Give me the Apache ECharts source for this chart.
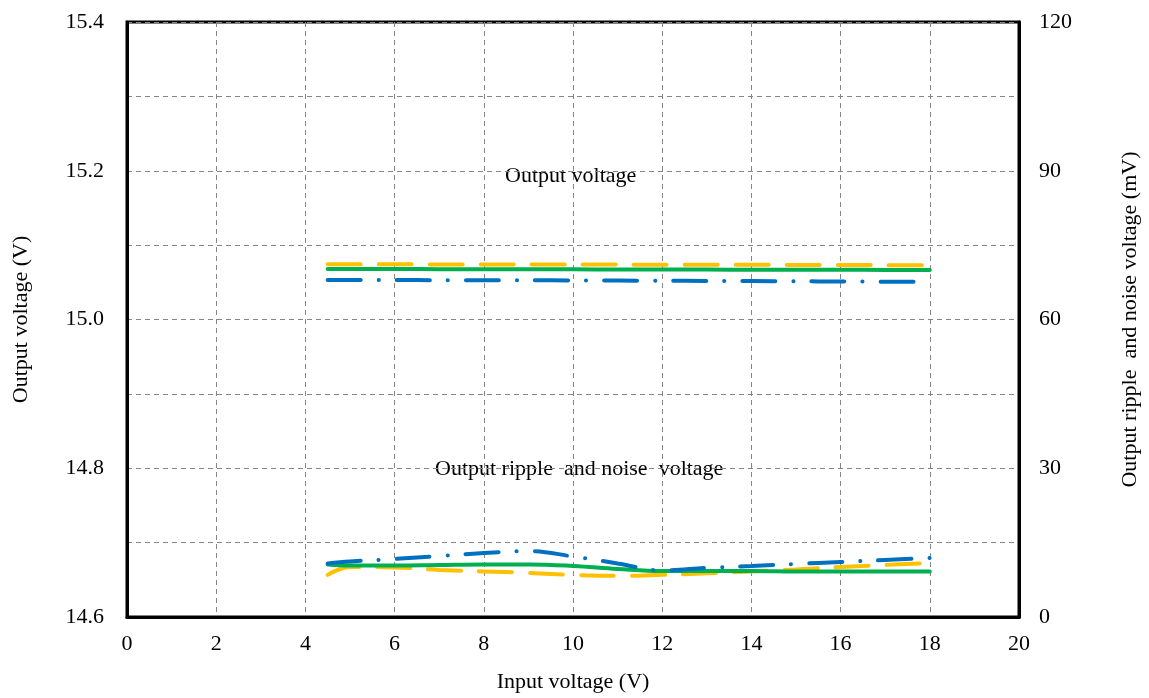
<!DOCTYPE html>
<html>
<head>
<meta charset="utf-8">
<script src="https://cdn.jsdelivr.net/npm/echarts@6/dist/echarts.min.js"></script>
<style>
html,body{margin:0;padding:0;background:#fff;}
#chart{width:1149px;height:698px;}
</style>
</head>
<body>
<div id="chart"></div>
<script>
// Input voltage (V)
const inputV = [4.5, 5, 6, 7, 8, 9, 10, 11, 12, 13, 14, 15, 16, 17, 18];
// Output voltage (V), left axis
const outVYellow = [15.0743, 15.0743, 15.0742, 15.0741, 15.0741, 15.0740, 15.0739, 15.0738, 15.0737, 15.0736, 15.0735, 15.0734, 15.0733, 15.0731, 15.0730];
const outVGreen  = [15.0679, 15.0679, 15.0678, 15.0677, 15.0676, 15.0675, 15.0674, 15.0673, 15.0672, 15.0671, 15.0670, 15.0669, 15.0668, 15.0667, 15.0666];
const outVBlue   = [15.0531, 15.0531, 15.0530, 15.0529, 15.0528, 15.0527, 15.0525, 15.0523, 15.0521, 15.0519, 15.0517, 15.0514, 15.0511, 15.0508, 15.0505];
// Output ripple and noise voltage (mV), right axis
const rippleYellow = [8.5, 10.1, 10.0, 9.5, 9.2, 8.9, 8.5, 8.3, 8.5, 8.8, 9.2, 9.6, 10.1, 10.5, 10.9];
const rippleGreen  = [10.6, 10.4, 10.4, 10.5, 10.6, 10.6, 10.3, 9.7, 9.3, 9.3, 9.3, 9.2, 9.2, 9.2, 9.2];
const rippleBlue   = [10.8, 11.2, 11.7, 12.3, 12.9, 13.3, 12.2, 10.8, 9.4, 9.9, 10.3, 10.7, 11.1, 11.5, 11.9];
// Axis ticks
const xTicks = {min: 0, max: 20, interval: 2};
const leftTicks = {min: 14.6, max: 15.4, interval: 0.1};
const rightTicks = {min: 0, max: 120, interval: 15};

const pairs = (ys) => inputV.map((x, i) => [x, ys[i]]);

const FONT = 'Liberation Serif';
const YELLOW = '#FFC000', GREEN = '#00B050', BLUE = '#0070C0';
const gridLine = {show: true, lineStyle: {color: '#858585', width: 1, type: [5, 4]}};

const chart = echarts.init(document.getElementById('chart'));
chart.setOption({
  backgroundColor: '#fff',
  animation: false,
  textStyle: {fontFamily: FONT, color: '#000'},
  grid: {left: 127, right: 129, top: 22, bottom: 81, show: true, borderColor: '#000', borderWidth: 3, containLabel: false},
  xAxis: {
    type: 'value', min: xTicks.min, max: xTicks.max, interval: xTicks.interval,
    name: 'Input voltage (V)', nameLocation: 'middle', nameGap: 54,
    nameTextStyle: {fontFamily: FONT, fontSize: 22, color: '#000'},
    axisLine: {show: true, lineStyle: {color: '#000', width: 3}},
    axisTick: {show: false},
    axisLabel: {fontFamily: FONT, fontSize: 22, color: '#000', margin: 16},
    splitLine: gridLine
  },
  yAxis: [{
    type: 'value', position: 'left', min: leftTicks.min, max: leftTicks.max, interval: leftTicks.interval,
    name: 'Output voltage (V)', nameLocation: 'middle', nameGap: 95,
    nameTextStyle: {fontFamily: FONT, fontSize: 22, color: '#000'},
    axisLine: {show: true, lineStyle: {color: '#000', width: 3}},
    axisTick: {show: false},
    axisLabel: {fontFamily: FONT, fontSize: 22, color: '#000', margin: 23,
      formatter: v => (Math.round(v * 10) % 2 === 0 ? v.toFixed(1) : '')},
    splitLine: gridLine
  }, {
    type: 'value', position: 'right', min: rightTicks.min, max: rightTicks.max, interval: rightTicks.interval,
    name: 'Output ripple  and noise voltage (mV)', nameLocation: 'middle', nameGap: 100,
    nameTextStyle: {fontFamily: FONT, fontSize: 22, color: '#000'},
    axisLine: {show: true, lineStyle: {color: '#000', width: 3}},
    axisTick: {show: false},
    axisLabel: {fontFamily: FONT, fontSize: 22, color: '#000', margin: 20,
      formatter: v => (Math.round(v) % 30 === 0 ? String(Math.round(v)) : '')},
    splitLine: {show: false}
  }],
  graphic: [
    {type: 'text', left: 505, top: 165, style: {text: 'Output voltage', font: '22px "Liberation Serif"', fill: '#000'}},
    {type: 'text', left: 435, top: 458, style: {text: 'Output ripple  and noise  voltage', font: '22px "Liberation Serif"', fill: '#000'}}
  ],
  series: [
    {type: 'line', yAxisIndex: 0, data: pairs(outVYellow), showSymbol: false, smooth: 0.3,
      lineStyle: {color: YELLOW, width: 4, type: [33, 18], cap: 'round'}, z: 3},
    {type: 'line', yAxisIndex: 0, data: pairs(outVGreen), showSymbol: false, smooth: 0.3,
      lineStyle: {color: GREEN, width: 4, cap: 'round'}, z: 4},
    {type: 'line', yAxisIndex: 0, data: pairs(outVBlue), showSymbol: false, smooth: 0.3,
      lineStyle: {color: BLUE, width: 4, type: [33, 18, 0.1, 18], cap: 'round'}, z: 3},
    {type: 'line', yAxisIndex: 1, data: pairs(rippleYellow), showSymbol: false, smooth: 0.4,
      lineStyle: {color: YELLOW, width: 4, type: [33, 18], cap: 'round'}, z: 3},
    {type: 'line', yAxisIndex: 1, data: pairs(rippleGreen), showSymbol: false, smooth: 0.4,
      lineStyle: {color: GREEN, width: 4, cap: 'round'}, z: 4},
    {type: 'line', yAxisIndex: 1, data: pairs(rippleBlue), showSymbol: false, smooth: 0.4,
      lineStyle: {color: BLUE, width: 4, type: [33, 18, 0.1, 18], cap: 'round'}, z: 5}
  ]
});
</script>
</body>
</html>
